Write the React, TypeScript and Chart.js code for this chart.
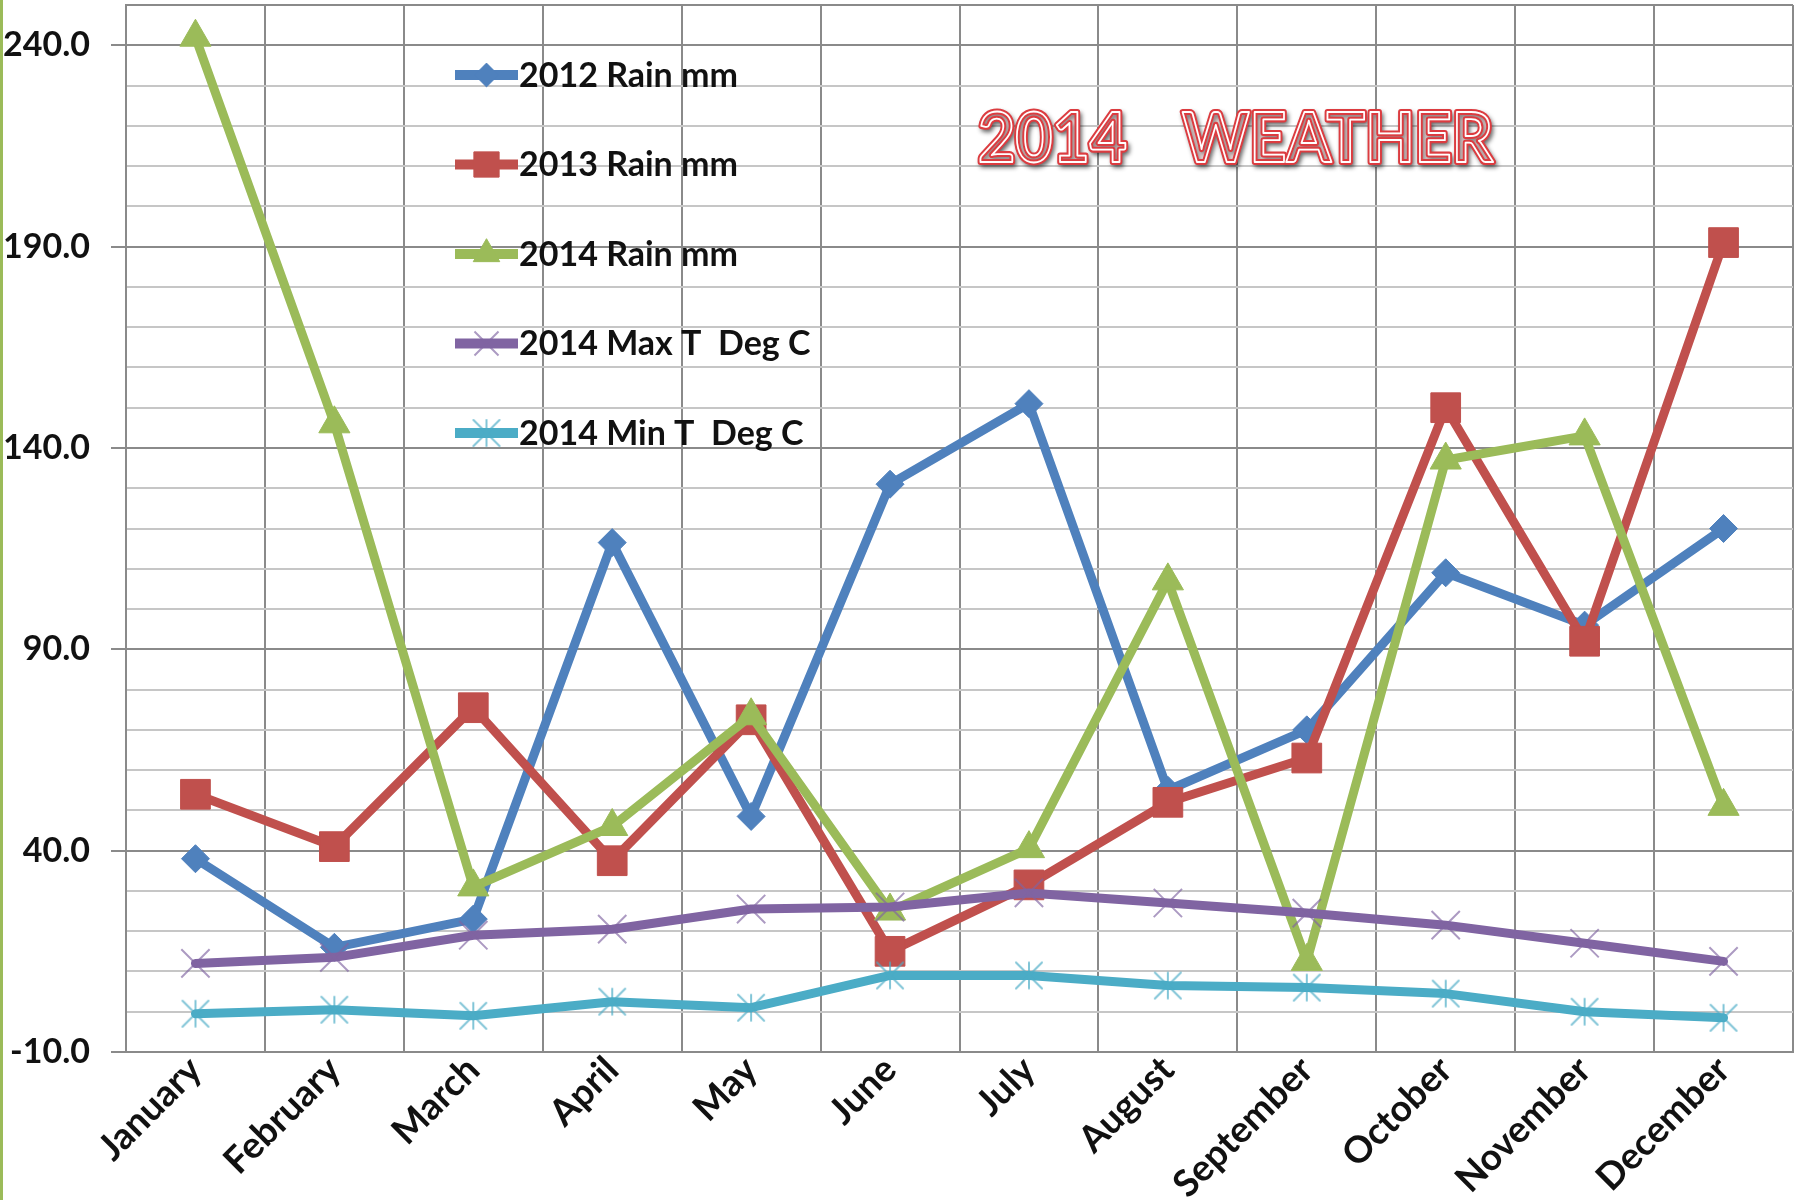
import React, { useEffect, useRef } from 'react';
import { Chart, registerables } from 'chart.js';
import { drawPoint } from 'chart.js/helpers';

Chart.register(...registerables);

// ---- data ----
const months = ['January', 'February', 'March', 'April', 'May', 'June', 'July', 'August', 'September', 'October', 'November', 'December'];
const seriesNames = ['2012 Rain mm', '2013 Rain mm', '2014 Rain mm', '2014 Max T  Deg C', '2014 Min T  Deg C'];
const rain2012 = [38, 16, 23, 116.5, 48.5, 131, 151, 55, 70, 109, 96, 120];
const rain2013 = [54, 41, 75.5, 37.5, 72.5, 15, 31.5, 52, 63, 150, 92, 191];
const rain2014 = [242, 146, 31, 46, 73.5, 25, 40.5, 107, 12.5, 137, 143, 51];
const maxT2014 = [12, 13.5, 19, 20.5, 25.5, 26, 29.5, 27, 24.5, 21.5, 17, 12.5];
const minT2014 = [-0.5, 0.5, -1, 2.5, 1, 9, 9, 6.5, 6, 4.5, 0, -1.5];
const yLabelValues = [-10, 40, 90, 140, 190, 240];
const titleWords = ['2014', 'WEATHER'];

// ---- styles ----
const COLORS = ['#4f81bd', '#c0504d', '#9bbb59', '#8064a2', '#4bacc6'];
const MARKER_BORDER = ['#4f81bd', '#c0504d', '#9bbb59', 'rgba(128,100,162,0.65)', 'rgba(75,172,198,0.7)'];
const RADII = [14, 21, 18, 20, 15];
const MAJOR = '#8a8a8a';
const MINOR = '#c6c6c6';
const FONT = 'Lato, "Open Sans", sans-serif';

function makeAsterisk(color: string, size: number, lw: number): HTMLCanvasElement {
  const c = document.createElement('canvas');
  c.width = size;
  c.height = size;
  const g = c.getContext('2d') as CanvasRenderingContext2D;
  const m = size / 2;
  const r = size / 2 - lw;
  g.strokeStyle = color;
  g.lineWidth = lw;
  g.lineCap = 'round';
  g.beginPath();
  g.moveTo(m - r, m - r);
  g.lineTo(m + r, m + r);
  g.moveTo(m + r, m - r);
  g.lineTo(m - r, m + r);
  g.moveTo(m, m - r);
  g.lineTo(m, m + r);
  g.stroke();
  return c;
}

const legendPlugin = {
  id: 'innerLegend',
  afterDraw(chart: any) {
    const ctx = chart.ctx as CanvasRenderingContext2D;
    const x0 = 455, x1 = 518, y0 = 75, dy = 89.5;
    chart.data.datasets.forEach((ds: any, i: number) => {
      const y = y0 + i * dy;
      ctx.save();
      ctx.strokeStyle = ds.borderColor;
      ctx.lineWidth = 10;
      ctx.lineCap = 'butt';
      ctx.beginPath();
      ctx.moveTo(x0, y);
      ctx.lineTo(x1, y);
      ctx.stroke();
      ctx.fillStyle = ds.pointBackgroundColor;
      ctx.strokeStyle = ds.pointBorderColor;
      ctx.lineWidth = ds.pointBorderWidth;
      drawPoint(ctx, { pointStyle: ds.pointStyle, rotation: 0, radius: ds.pointRadius * 0.85, borderWidth: ds.pointBorderWidth } as any, (x0 + x1) / 2, y);
      ctx.fillStyle = '#111';
      ctx.font = `bold 34px ${FONT}`;
      ctx.textBaseline = 'middle';
      ctx.textAlign = 'left';
      ctx.fillText(ds.label, 519, y + 1);
      ctx.restore();
    });
  },
};

function drawOutlined(ctx: CanvasRenderingContext2D, text: string, left: number, baseline: number, targetW: number, size: number) {
  ctx.save();
  ctx.font = `bold ${size}px ${FONT}`;
  const w = ctx.measureText(text).width;
  ctx.translate(left, baseline);
  ctx.scale(targetW / w, 1);
  ctx.textBaseline = 'alphabetic';
  ctx.textAlign = 'left';
  ctx.lineJoin = 'round';
  ctx.shadowColor = 'rgba(0,0,0,0.45)';
  ctx.shadowBlur = 4;
  ctx.shadowOffsetX = 2;
  ctx.shadowOffsetY = 3;
  ctx.fillStyle = '#fbe6e6';
  ctx.fillText(text, 0, 0);
  ctx.strokeStyle = '#dc3c40';
  ctx.lineWidth = 6;
  ctx.strokeText(text, 0, 0);
  ctx.shadowColor = 'transparent';
  ctx.strokeStyle = '#ffffff';
  ctx.lineWidth = 1.8;
  ctx.strokeText(text, 0, 0);
  ctx.restore();
}

const titlePlugin = {
  id: 'fancyTitle',
  afterDraw(chart: any) {
    const ctx = chart.ctx as CanvasRenderingContext2D;
    drawOutlined(ctx, titleWords[0], 978, 162, 149, 68);
    drawOutlined(ctx, titleWords[1], 1182, 162, 311, 68);
    ctx.save();
    ctx.fillStyle = '#9bbb59';
    ctx.fillRect(0, 0, 3, chart.height);
    ctx.restore();
  },
};

export default function App() {
  const ref = useRef<HTMLCanvasElement>(null);
  useEffect(() => {
    document.body.style.margin = '0';
    const series = [rain2012, rain2013, rain2014, maxT2014, minT2014];
    const styles: any[] = ['rectRot', 'rect', 'triangle', 'crossRot', makeAsterisk(MARKER_BORDER[4], 30, 2)];
    const chart = new Chart(ref.current as HTMLCanvasElement, {
      type: 'line',
      data: {
        labels: months,
        datasets: series.map((d, i) => ({
          label: seriesNames[i],
          data: d,
          borderColor: COLORS[i],
          backgroundColor: COLORS[i],
          borderWidth: 9,
          borderJoinStyle: 'round',
          borderCapStyle: 'round',
          pointStyle: styles[i],
          pointRadius: RADII[i],
          pointBackgroundColor: COLORS[i],
          pointBorderColor: MARKER_BORDER[i],
          pointBorderWidth: i >= 3 ? 2 : 1,
          order: -i,
          tension: 0,
          fill: false,
        })) as any,
      },
      options: {
        responsive: false,
        animation: false,
        devicePixelRatio: 1,
        layout: { padding: 0, autoPadding: false },
        plugins: {
          legend: { display: false },
          title: { display: false },
          tooltip: { enabled: false },
        },
        scales: {
          x: {
            type: 'category',
            offset: true,
            grid: { offset: true, color: MAJOR, lineWidth: 2, drawTicks: false },
            border: { color: MAJOR, width: 2 },
            ticks: {
              autoSkip: false,
              minRotation: 45,
              maxRotation: 45,
              padding: -4,
              color: '#111',
              font: { family: FONT, weight: 'bold', size: 37 },
            },
            afterFit: (s: any) => {
              s.height = 148;
              s.paddingLeft = 0;
              s.paddingRight = 5;
              s.paddingTop = 0;
              s.paddingBottom = 0;
            },
          },
          y: {
            min: -10,
            max: 250,
            grid: {
              lineWidth: 2,
              color: (c: any) => {
                const v = Math.round(c.tick.value);
                return yLabelValues.includes(v) || v === 250 ? MAJOR : MINOR;
              },
              tickColor: (c: any) => (yLabelValues.includes(Math.round(c.tick.value)) ? MAJOR : 'rgba(0,0,0,0)'),
              tickLength: 15,
            },
            border: { color: MAJOR, width: 2 },
            ticks: {
              stepSize: 10,
              autoSkip: false,
              padding: 21,
              color: '#111',
              font: { family: FONT, weight: 'bold', size: 34 },
              callback: (v: any) => {
                const n = Math.round(Number(v));
                return yLabelValues.includes(n) ? n.toFixed(1) : '';
              },
            },
            afterFit: (s: any) => {
              s.width = 126;
              s.paddingTop = 5;
              s.paddingBottom = 0;
              s.paddingLeft = 0;
              s.paddingRight = 0;
            },
          },
        },
      } as any,
      plugins: [titlePlugin, legendPlugin],
    });
    return () => chart.destroy();
  }, []);
  return (
    <div style={{ width: 1798, height: 1200, background: '#fff', overflow: 'hidden' }}>
      <canvas ref={ref} width={1798} height={1200} style={{ display: 'block', width: 1798, height: 1200 }} />
    </div>
  );
}
